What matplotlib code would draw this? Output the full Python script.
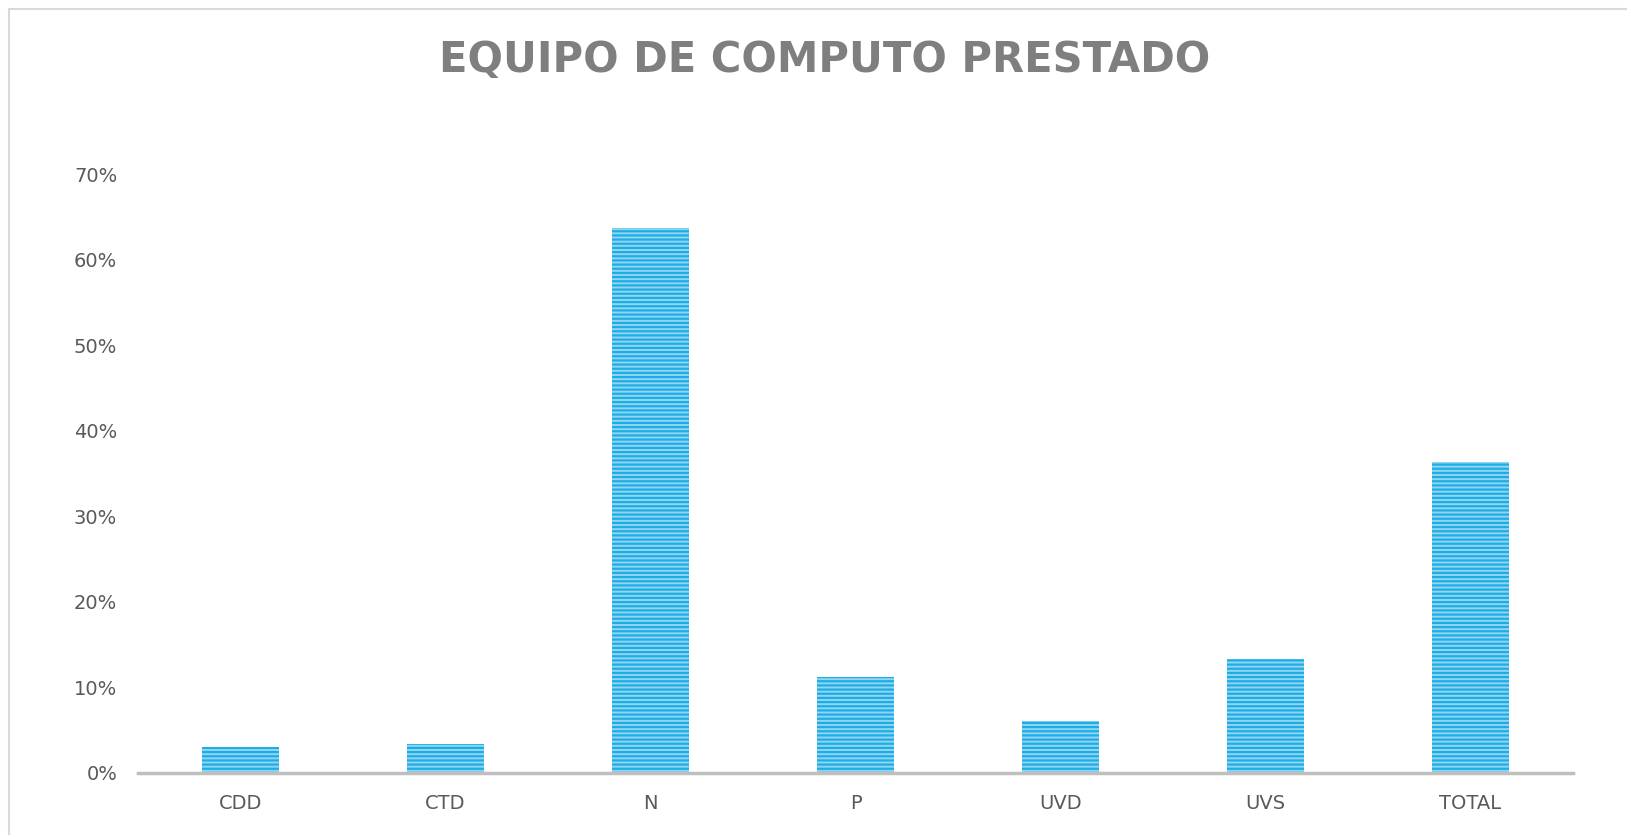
import matplotlib
matplotlib.use("Agg")
import matplotlib.pyplot as plt
from matplotlib.patches import Rectangle
from matplotlib.ticker import PercentFormatter

# data
categories = ["CDD", "CTD", "N", "P", "UVD", "UVS", "TOTAL"]
values = [3.0, 3.4, 63.7, 11.2, 6.1, 13.3, 36.3]  # percent
y_ticks = [0, 10, 20, 30, 40, 50, 60, 70]
title = "EQUIPO DE COMPUTO PRESTADO"

plt.rcParams["font.family"] = ["DejaVu Sans"]
plt.rcParams["hatch.linewidth"] = 1.6

fig = plt.figure(figsize=(16.27, 8.35), dpi=100)
ax = fig.add_axes([0.0848, 0.0743, 0.882, 0.7173])

x = range(len(categories))
ax.bar(x, values, width=0.38, color="#95d4f1", edgecolor="#1aaee6",
       linewidth=0, hatch="----")

ax.set_xlim(-0.5, len(categories) - 0.5)
ax.set_ylim(0, 70)
ax.set_yticks(y_ticks)
ax.yaxis.set_major_formatter(PercentFormatter(decimals=0))
ax.set_xticks(list(x))
ax.set_xticklabels(categories)
ax.tick_params(axis="both", length=0, labelsize=14, colors="#595959")
ax.tick_params(axis="y", pad=15)
ax.tick_params(axis="x", pad=15)

for side in ["top", "right", "left"]:
    ax.spines[side].set_visible(False)
ax.spines["bottom"].set_color("#bfbfbf")
ax.spines["bottom"].set_linewidth(2.5)

fig.text(0.507, 0.928, title, ha="center", va="center", fontsize=30,
         fontweight="bold", color="#7f7f7f")

# light frame around the chart area
fig.patches.append(Rectangle((9 / 1627, -0.01), 1.1, 1 - 9 / 835 + 0.01,
                             transform=fig.transFigure, fill=False,
                             edgecolor="#d9d9d9", linewidth=1.5))

fig.savefig("out.png", dpi=100)
